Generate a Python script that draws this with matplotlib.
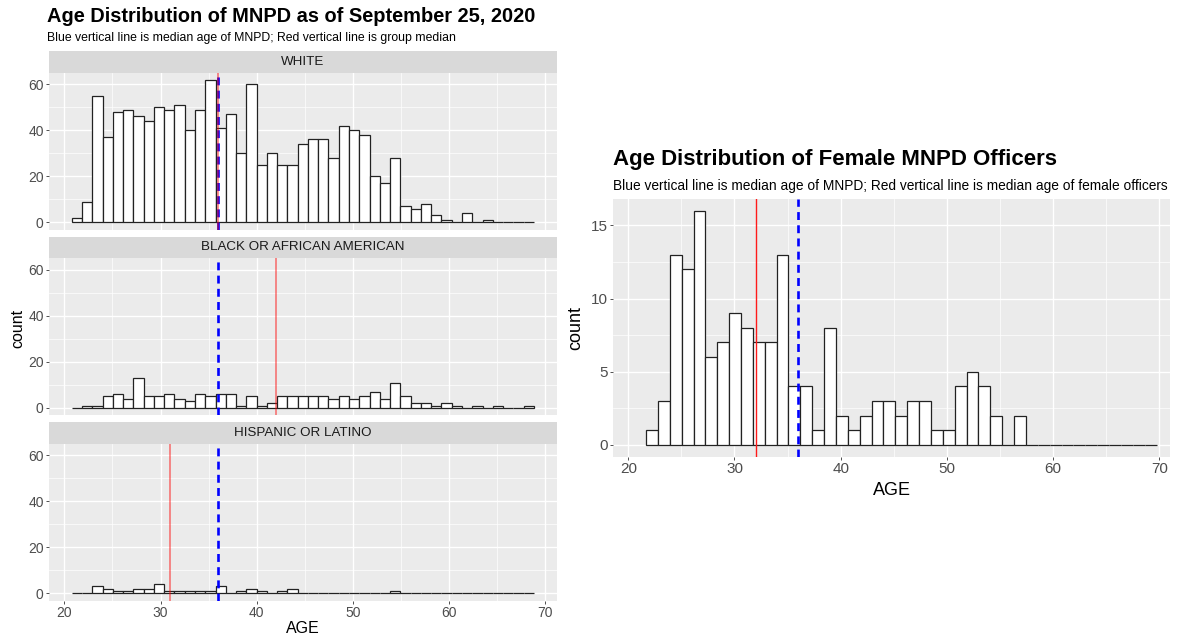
import matplotlib.pyplot as plt
import numpy as np

plt.rcParams['font.family'] = ['Liberation Sans', 'DejaVu Sans']

# facet histograms: 45 bins
facet_start = 20.77
facet_width = 1.0676
white = [2, 9, 55, 37, 48, 49, 46, 44, 50, 49, 51, 40, 49, 62, 41, 47, 30, 60, 25, 30, 25,
         25, 34, 36, 36, 28, 42, 40, 38, 20, 17, 28, 7, 6, 8, 3, 1, 0, 4, 0, 1, 0, 0, 0, 0]
black = [0, 1, 1, 5, 6, 4, 13, 5, 5, 6, 4, 3, 6, 5, 6, 6, 1, 5, 1, 2,
         5, 5, 5, 5, 5, 4, 5, 4, 5, 7, 4, 11, 5, 2, 2, 1, 2, 1, 0, 1, 0, 1, 0, 0, 1]
hispanic = [0, 0, 3, 2, 1, 1, 2, 2, 4, 1, 1, 1, 1, 1, 3, 0, 1, 2, 1, 0, 1, 2,
            0, 0, 0, 0, 0, 0, 0, 0, 0, 1, 0, 0, 0, 0, 0, 0, 0, 0, 0, 0, 0, 0, 0]
facet_names = ['WHITE', 'BLACK OR AFRICAN AMERICAN', 'HISPANIC OR LATINO']
group_medians = [36, 42, 31]
mnpd_median = 36

# female officers: 43 bins
female_start = 21.67
female_width = 1.1177
female = [1, 3, 13, 12, 16, 6, 7, 9, 8, 7, 7, 13, 4, 4, 1, 8, 2, 1, 2, 3, 3, 2, 3, 3, 1, 1,
          4, 5, 4, 2, 0, 2, 0, 0, 0, 0, 0, 0, 0, 0, 0, 0, 0]
female_median = 32

W, H = 1180.0, 636.0
fig = plt.figure(figsize=(W / 100, H / 100), dpi=100)

BG = '#EBEBEB'
STRIP = '#D9D9D9'
TICK_TXT = '#4D4D4D'


def px_axes(x0, y0, x1, y1):
    return fig.add_axes([x0 / W, 1 - y1 / H, (x1 - x0) / W, (y1 - y0) / H])


def style_panel(ax, xlim, ylim, yticks, yminor, fs, show_x):
    ax.set_facecolor(BG)
    ax.set_xlim(xlim)
    ax.set_ylim(ylim)
    ax.set_xticks([20, 30, 40, 50, 60, 70])
    ax.set_xticks([25, 35, 45, 55, 65], minor=True)
    ax.set_yticks(yticks)
    ax.set_yticks(yminor, minor=True)
    ax.grid(which='major', color='white', lw=1.0)
    ax.grid(which='minor', color='white', lw=0.5)
    ax.set_axisbelow(True)
    for s in ax.spines.values():
        s.set_visible(False)
    ax.tick_params(which='major', length=2.5, width=0.6, color='#333333',
                   labelsize=fs, labelcolor=TICK_TXT, pad=1.5)
    ax.tick_params(which='minor', length=0)
    if not show_x:
        ax.tick_params(axis='x', which='major', length=0, labelbottom=False)


def draw_hist(ax, start, width, counts):
    edges = start + width * np.arange(len(counts))
    ax.bar(edges, counts, width=width, align='edge', color='white',
           edgecolor='#222222', lw=0.9, zorder=2)


# ---- left: faceted by race
panels = [(51, 72.5, 229.5), (236.5, 258, 415), (422, 443.5, 600.5)]
facet_counts = [white, black, hispanic]
for i in range(3):
    s_top, p_top, p_bot = panels[i]
    strip = px_axes(49.3, s_top, 556.7, p_top)
    strip.set_facecolor(STRIP)
    strip.set_xticks([])
    strip.set_yticks([])
    for s in strip.spines.values():
        s.set_visible(False)
    strip.text(0.5, 0.5, facet_names[i], ha='center', va='center',
               fontsize=9.6, color='#1A1A1A', transform=strip.transAxes)

    ax = px_axes(49.3, p_top, 556.7, p_bot)
    style_panel(ax, (18.44, 71.18), (-3.1, 65.1), [0, 20, 40, 60], [10, 30, 50], 10, i == 2)
    draw_hist(ax, facet_start, facet_width, facet_counts[i])
    ax.axvline(mnpd_median, color='#0000FF', lw=1.9, ls=(0, (3, 2)), zorder=3)
    ax.axvline(group_medians[i], color='red', lw=1.1, alpha=0.55, zorder=4)
    if i == 2:
        ax.set_xlabel('AGE', fontsize=11.5, labelpad=1)

fig.text(18 / W, 1 - 328 / H, 'count', rotation=90, ha='center', va='center', fontsize=11.5)
fig.text(47 / W, 1 - 16 / H, 'Age Distribution of MNPD as of September 25, 2020',
         fontsize=14.4, fontweight='bold', va='center')
fig.text(47 / W, 1 - 38 / H,
         'Blue vertical line is median age of MNPD; Red vertical line is group median',
         fontsize=8.8, va='center')

# ---- right: female officers
axf = px_axes(613.3, 199, 1170, 456.7)
style_panel(axf, (18.59, 71.0), (-0.8, 16.8), [0, 5, 10, 15], [2.5, 7.5, 12.5], 11, True)
draw_hist(axf, female_start, female_width, female)
axf.axvline(mnpd_median, color='#0000FF', lw=1.9, ls=(0, (3, 2)), zorder=3)
axf.axvline(female_median, color='#FF1A1A', lw=1.0, zorder=4)
axf.set_xlabel('AGE', fontsize=13, labelpad=4)
axf.set_ylabel('count', fontsize=13, labelpad=5)

fig.text(613 / W, 1 - 160 / H, 'Age Distribution of Female MNPD Officers',
         fontsize=16, fontweight='bold', va='center')
fig.text(613 / W, 1 - 186 / H,
         'Blue vertical line is median age of MNPD; Red vertical line is median age of female officers',
         fontsize=9.9, va='center')

fig.savefig('out.png', dpi=100)
